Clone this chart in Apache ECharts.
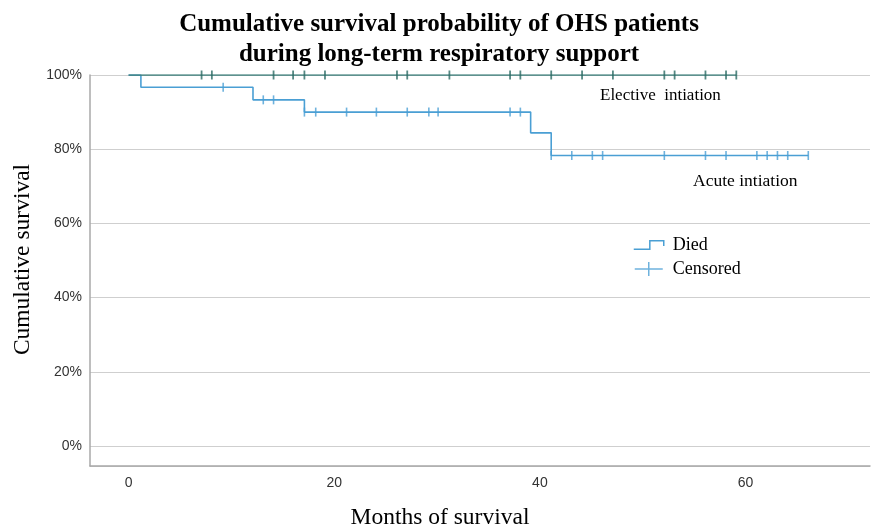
<!DOCTYPE html>
<html>
<head>
<meta charset="utf-8">
<title>Cumulative survival probability of OHS patients</title>
<script src="https://cdn.jsdelivr.net/npm/echarts@6/dist/echarts.min.js"></script>
<style>
  html, body { margin: 0; padding: 0; background: #ffffff; }
  #chart { width: 878px; height: 530px; }
</style>
</head>
<body>
<div id="chart"></div>
<script>
// Kaplan–Meier estimates, months of survival vs cumulative survival (%)
const acuteStepTimes = [0, 1.2, 12.1, 17.1, 39.1, 41.1, 66.1];
const acuteStepSurvival = [100, 96.7, 93.3, 90.0, 84.4, 78.3, 78.3];
const acuteCensorTimes = [9.2, 13.1, 14.1, 17.1, 18.2, 21.2, 24.1, 27.1, 29.2, 30.1, 37.1, 38.1,
  41.1, 43.1, 45.1, 46.1, 52.1, 56.1, 58.1, 61.1, 62.1, 63.1, 64.1, 66.1];

const electiveStepTimes = [0, 59.1];
const electiveStepSurvival = [100, 100];
const electiveCensorTimes = [7.1, 8.1, 14.1, 16.0, 17.1, 19.1, 26.1, 27.1, 31.2, 37.1, 38.1,
  41.1, 44.1, 47.1, 52.1, 53.1, 56.1, 58.1, 59.1];

const xTickValues = [0, 20, 40, 60];
const yTickValues = [0, 20, 40, 60, 80, 100];

const SERIF = '"Liberation Serif", "DejaVu Serif", serif';
const SANS = '"Liberation Sans", Arial, sans-serif';
const ACUTE = '#4a9fd4';
const ELECTIVE = '#3a7d78';
const ELECTIVE_MARK = '#2b6a64';

// survival level of a step curve at time t
function levelAt(times, surv, t) {
  let v = surv[0];
  for (let i = 0; i < times.length; i++) {
    if (t >= times[i] - 1e-9) v = surv[i];
  }
  return v;
}

const pairs = (xs, ys) => xs.map((x, i) => [x, ys[i]]);
const censorPoints = (cts, times, surv) => cts.map(t => [t, levelAt(times, surv, t)]);

const isTick = (v, list) => list.some(t => Math.abs(t - v) < 1e-6);

const chart = echarts.init(document.getElementById('chart'), null, { renderer: 'canvas' });

chart.setOption({
  animation: false,
  backgroundColor: '#ffffff',
  title: {
    text: 'Cumulative survival probability of OHS patients\nduring long-term respiratory support',
    left: 'center',
    top: 6,
    padding: [4, 0, 0, 34],
    textStyle: {
      fontFamily: SERIF,
      fontWeight: 'bold',
      fontSize: 25,
      lineHeight: 30,
      color: '#000000'
    }
  },
  grid: { left: 90, right: 8, top: 75, bottom: 64, containLabel: false, outerBoundsMode: 'none' },
  xAxis: {
    type: 'value',
    min: -3.75,
    max: 72.1,
    splitNumber: 4,
    name: 'Months of survival',
    nameLocation: 'middle',
    nameGap: 40,
    nameTextStyle: { fontFamily: SERIF, fontSize: 23.5, color: '#000', padding: [0, 80, 0, 0] },
    axisLine: { show: true, onZero: false, lineStyle: { color: '#a8a8a8', width: 1.5 } },
    axisTick: { show: false },
    splitLine: { show: false },
    axisLabel: {
      margin: 10,
      fontFamily: SANS,
      fontSize: 14,
      color: '#333',
      formatter: v => (isTick(v, xTickValues) ? String(Math.round(v)) : '')
    }
  },
  yAxis: {
    type: 'value',
    min: -5.4,
    max: 100,
    splitNumber: 5,
    name: 'Cumulative survival',
    nameLocation: 'middle',
    nameGap: 52,
    nameTextStyle: { fontFamily: SERIF, fontSize: 23.5, color: '#000', padding: [0, 0, 0, 22] },
    axisLine: { show: true, onZero: false, lineStyle: { color: '#a8a8a8', width: 1.5 } },
    axisTick: { show: false },
    splitLine: { show: true, lineStyle: { color: '#cfcfcf', width: 1 } },
    axisLabel: {
      margin: 8,
      fontFamily: SANS,
      fontSize: 14,
      color: '#333',
      formatter: v => (isTick(v, yTickValues) ? Math.round(v) + '%' : '')
    }
  },
  legend: {
    orient: 'vertical',
    left: 628,
    top: 231,
    itemWidth: 30,
    itemHeight: 14,
    itemGap: 6,
    data: [
      { name: 'Died', icon: 'path://M0,8 L15,8 L15,0 L28,0 L28,5' },
      { name: 'Censored', icon: 'path://M0,7 L28,7 M14,0 L14,14' }
    ],
    itemStyle: { color: 'transparent', borderColor: ACUTE, borderWidth: 1.5 },
    textStyle: { fontFamily: SERIF, fontSize: 18, color: '#000', padding: [0, 0, 0, 4] }
  },
  graphic: [
    {
      type: 'text', left: 600, top: 87,
      style: { text: 'Elective  intiation', fontFamily: SERIF, fontSize: 17, fill: '#000' }
    },
    {
      type: 'text', left: 693, top: 172,
      style: { text: 'Acute intiation', fontFamily: SERIF, fontSize: 17.5, fill: '#000' }
    }
  ],
  series: [
    {
      name: 'Died',
      type: 'line',
      step: 'end',
      data: pairs(acuteStepTimes, acuteStepSurvival),
      showSymbol: false,
      symbol: 'none',
      lineStyle: { color: ACUTE, width: 1.6 },
      itemStyle: { color: ACUTE },
      z: 2
    },
    {
      name: 'Censored',
      type: 'scatter',
      data: censorPoints(acuteCensorTimes, acuteStepTimes, acuteStepSurvival),
      symbol: 'rect',
      symbolSize: [1.6, 9],
      itemStyle: { color: ACUTE },
      z: 3
    },
    {
      name: 'Elective',
      type: 'line',
      step: 'end',
      data: pairs(electiveStepTimes, electiveStepSurvival),
      showSymbol: false,
      symbol: 'none',
      lineStyle: { color: ELECTIVE, width: 1.6 },
      itemStyle: { color: ELECTIVE },
      z: 4
    },
    {
      name: 'Elective censored',
      type: 'scatter',
      data: censorPoints(electiveCensorTimes, electiveStepTimes, electiveStepSurvival),
      symbol: 'rect',
      symbolSize: [1.8, 9],
      itemStyle: { color: ELECTIVE_MARK },
      z: 5
    }
  ]
});
</script>
</body>
</html>
